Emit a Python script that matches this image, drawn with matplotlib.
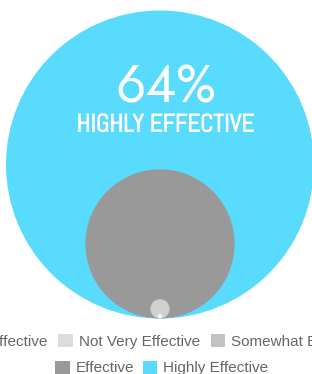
import matplotlib
matplotlib.use("Agg")
import matplotlib.pyplot as plt
import matplotlib.patheffects as pe
from matplotlib.patches import Circle, Patch

# Data: share of answers per rating (radius of each bubble ~ value)
categories = ["Not Effective", "Not Very Effective", "Somewhat Effective",
              "Effective", "Highly Effective"]
values = [0, 1, 4, 31, 64]
colors = ["#f2f2f2", "#dcdcdc", "#c2c2c2", "#999999", "#58dbfc"]
circle_colors = ["#f8f8f8", "#f0f0f0", "#d0d0d0", "#999999", "#58dbfc"]
headline_value = "64%"
headline_label = "HIGHLY EFFECTIVE"

W, H = 312, 374

fig = plt.figure(figsize=(W / 100, H / 100), dpi=100)
ax = fig.add_axes([0, 0, 1, 1])
ax.set_xlim(0, W)
ax.set_ylim(H, 0)
ax.set_aspect("equal")
ax.axis("off")

# all bubbles sit on the same baseline, biggest drawn first
scale = 154 / max(values)
cx, base = 160, 318.5
for v, c in sorted(zip(values, circle_colors), reverse=True):
    if v == 0:
        continue
    r = v * scale
    ax.add_patch(Circle((cx, base - r), r, color=c, lw=0))

ax.text(166, 88, headline_value, ha="center", va="center", color="white",
        fontsize=38, family=["Jost", "DejaVu Sans"])
ax.text(165.5, 125, headline_label, ha="center", va="center", color="white",
        fontsize=18, family=["Abel", "DejaVu Sans"],
        path_effects=[pe.withStroke(linewidth=0.7, foreground="white")])

# legend in two centred rows, wider than the canvas so it gets cut at the edges
handles = [Patch(facecolor=c, edgecolor="none") for c in colors]
common = dict(frameon=False, loc="center", handlelength=0.95, handleheight=0.95,
              handletextpad=0.4, borderpad=0,
              prop={"family": ["Liberation Sans", "DejaVu Sans"], "size": 11},
              labelcolor="#666666")
fig.legend(handles[:3], categories[:3], ncol=3, columnspacing=0.7,
           bbox_to_anchor=(0.4915, 0.087), **common)
fig.legend(handles[3:], categories[3:], ncol=2, columnspacing=0.55,
           bbox_to_anchor=(0.519, 0.016), **common)

fig.savefig("out.png", dpi=100)
